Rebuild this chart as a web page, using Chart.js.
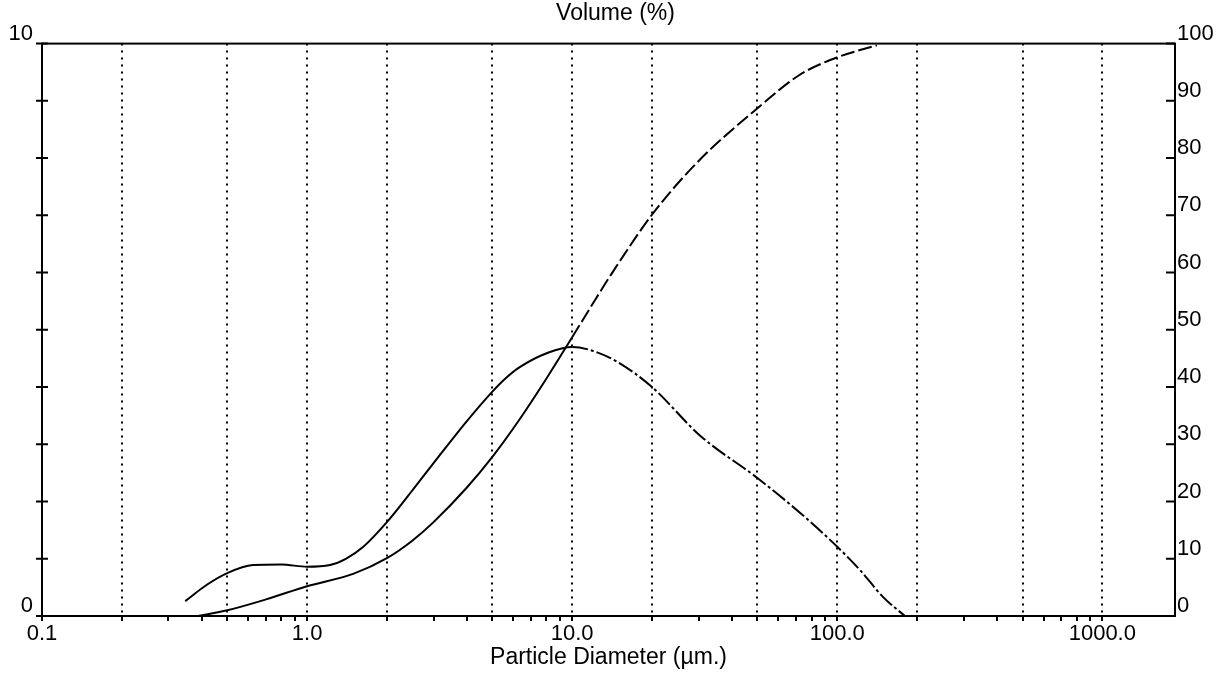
<!DOCTYPE html>
<html>
<head>
<meta charset="utf-8">
<script src="https://cdn.jsdelivr.net/npm/chart.js@4"></script>
<style>
  html, body { margin: 0; padding: 0; background: #fff; }
  #wrap { width: 1231px; height: 677px; }
</style>
</head>
<body>
<div id="wrap"><canvas id="psd"></canvas></div>
<script>
// particle size (um) and volume frequency (%) - left axis
const freqSize = [0.347, 0.42, 0.5, 0.625, 0.8, 1.0, 1.22, 1.4, 1.63, 2.0, 2.5, 3.0, 4.0, 5.0, 5.6, 6.3, 8.1, 10, 12, 14.8, 20, 30.4, 50, 72.5, 100, 122, 149, 180];
const freqVol = [0.26, 0.55, 0.75, 0.89, 0.9, 0.86, 0.89, 1.0, 1.21, 1.64, 2.2, 2.67, 3.4, 3.92, 4.15, 4.34, 4.6, 4.7, 4.63, 4.44, 4.0, 3.15, 2.41, 1.8, 1.21, 0.8, 0.33, 0];

// cumulative volume (%) - right axis
const cumSize = [0.388, 0.5, 0.7, 1.0, 1.5, 2.0, 2.5, 3.0, 4.0, 5.0, 6.3, 8.0, 10, 12.2, 14, 20, 30, 50, 72.5, 100, 141];
const cumVol = [0, 1.0, 2.9, 5.2, 7.4, 10.1, 13.2, 16.4, 22.4, 27.8, 34.2, 41.5, 48.7, 55.2, 59.6, 70.1, 79.5, 88.7, 94.6, 97.6, 99.7];

const xMin = 0.1;
const xMax = 1880;
const xTickValues = [];
for (let d = 0.1; d < 2000; d *= 10) {
  for (let m = 1; m <= 9; m++) {
    const v = +(m * d).toPrecision(3);
    if (v <= xMax) xTickValues.push(v);
  }
}
const xLabels = { 0.1: "0.1", 1: "1.0", 10: "10.0", 100: "100.0", 1000: "1000.0" };
const gridValues = [0.2, 0.5, 1, 2, 5, 10, 20, 50, 100, 200, 500, 1000];

const font = "'Liberation Sans', Arial, sans-serif";

function pts(xs, ys) {
  return xs.map((x, i) => ({ x: x, y: ys[i] }));
}

// frame and inward/crossing tick marks
const framePlugin = {
  id: "frame",
  afterDraw(chart) {
    const { ctx, chartArea: a, scales } = chart;
    ctx.save();
    ctx.strokeStyle = "#000";
    ctx.lineWidth = 2;
    ctx.strokeRect(a.left, a.top, a.right - a.left, a.bottom - a.top);
    ctx.beginPath();
    scales.y.ticks.forEach((t) => {
      const py = scales.y.getPixelForValue(t.value);
      ctx.moveTo(a.left - 6, py);
      ctx.lineTo(a.left + 6, py);
    });
    scales.y2.ticks.forEach((t) => {
      const py = scales.y2.getPixelForValue(t.value);
      ctx.moveTo(a.right - 9, py);
      ctx.lineTo(a.right, py);
    });
    ctx.stroke();
    ctx.restore();
  },
};

const dashAfter = (limit, dash) => (c) => (c.p0.parsed.x >= limit ? dash : undefined);

new Chart(document.getElementById("psd"), {
  type: "line",
  data: {
    datasets: [
      {
        label: "Volume",
        data: pts(freqSize, freqVol),
        yAxisID: "y",
        borderColor: "#000",
        borderWidth: 2,
        pointRadius: 0,
        cubicInterpolationMode: "monotone",
        segment: { borderDash: dashAfter(10, [16, 3, 3, 3]) },
      },
      {
        label: "Cumulative",
        data: pts(cumSize, cumVol),
        yAxisID: "y2",
        borderColor: "#000",
        borderWidth: 2,
        pointRadius: 0,
        cubicInterpolationMode: "monotone",
        segment: { borderDash: dashAfter(10, [14, 4]) },
      },
    ],
  },
  options: {
    responsive: true,
    maintainAspectRatio: false,
    animation: false,
    layout: { padding: 0 },
    plugins: {
      legend: { display: false },
      tooltip: { enabled: false },
      title: {
        display: true,
        text: "Volume (%)",
        color: "#000",
        font: { family: font, size: 23, weight: "normal" },
        padding: { top: 0, bottom: 16 },
      },
    },
    scales: {
      x: {
        type: "logarithmic",
        min: xMin,
        max: xMax,
        afterBuildTicks: (s) => {
          s.ticks = xTickValues.map((v) => ({ value: v }));
        },
        afterFit: (s) => { s.height = 61; },
        ticks: {
          autoSkip: false,
          maxRotation: 0,
          padding: 0,
          color: "#000",
          font: { family: font, size: 22 },
          callback: (v) => xLabels[v] || "",
        },
        grid: {
          color: (c) => (c.tick && gridValues.includes(c.tick.value) ? "#000" : "rgba(0,0,0,0)"),
          lineWidth: 2,
          tickColor: "#000",
          tickLength: 5,
          tickWidth: 2,
        },
        border: { display: false, dash: [2, 5] },
        title: {
          display: true,
          text: "Particle Diameter (µm.)",
          color: "#000",
          font: { family: font, size: 23 },
          padding: { top: 0, bottom: 6 },
        },
      },
      y: {
        position: "left",
        min: 0,
        max: 10,
        afterFit: (s) => { s.width = 42; },
        ticks: {
          stepSize: 1,
          padding: 9,
          labelOffset: -10,
          color: "#000",
          font: { family: font, size: 22 },
          callback: (v) => (v === 0 || v === 10 ? String(v) : ""),
        },
        grid: { drawOnChartArea: false, drawTicks: false },
        border: { display: false },
      },
      y2: {
        position: "right",
        min: 0,
        max: 100,
        afterFit: (s) => { s.width = 56; },
        ticks: {
          stepSize: 10,
          padding: 2,
          labelOffset: -10,
          color: "#000",
          font: { family: font, size: 22 },
        },
        grid: { drawOnChartArea: false, drawTicks: false },
        border: { display: false },
      },
    },
  },
  plugins: [framePlugin],
});
</script>
</body>
</html>
